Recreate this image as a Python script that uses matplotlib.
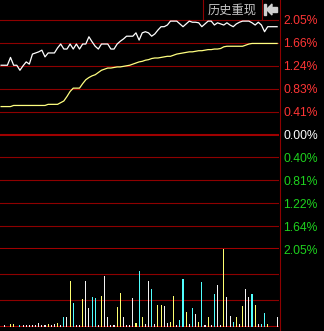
import matplotlib
matplotlib.use('Agg')
import matplotlib.pyplot as plt
from matplotlib.lines import Line2D
from matplotlib.patches import Polygon, Rectangle

# intraday change in percent, one point per bar
price = [1.24, 1.24, 1.24, 1.38, 1.24, 1.24, 1.15, 1.23, 1.30, 1.26,
         1.44, 1.46, 1.48, 1.51, 1.39, 1.46, 1.46, 1.46, 1.55, 1.62,
         1.53, 1.53, 1.62, 1.53, 1.62, 1.53, 1.62, 1.62, 1.75, 1.66,
         1.58, 1.53, 1.62, 1.62, 1.62, 1.53, 1.53, 1.62, 1.67, 1.71,
         1.76, 1.76, 1.76, 1.82, 1.69, 1.82, 1.84, 1.82, 1.76, 1.80,
         1.87, 1.93, 1.93, 1.96, 2.03, 2.03, 2.03, 1.98, 1.93, 1.98,
         2.03, 2.01, 2.01, 2.00, 1.93, 1.98, 2.03, 2.03, 1.96, 2.00,
         1.98, 1.96, 2.00, 1.96, 1.93, 1.98, 2.01, 2.03, 2.03, 2.03,
         2.00, 1.96, 2.01, 1.96, 1.84, 1.93, 1.93, 1.93, 1.93]
avg_price = [0.50, 0.50, 0.50, 0.50, 0.52, 0.52, 0.52, 0.52, 0.52, 0.52,
             0.52, 0.52, 0.52, 0.52, 0.52, 0.54, 0.54, 0.54, 0.54, 0.57,
             0.60, 0.68, 0.77, 0.83, 0.83, 0.83, 0.91, 0.98, 1.02, 1.05,
             1.07, 1.11, 1.15, 1.17, 1.19, 1.19, 1.20, 1.21, 1.21, 1.22,
             1.23, 1.24, 1.26, 1.28, 1.30, 1.31, 1.33, 1.34, 1.36, 1.37,
             1.37, 1.38, 1.39, 1.40, 1.40, 1.42, 1.44, 1.45, 1.46, 1.47,
             1.48, 1.48, 1.49, 1.50, 1.50, 1.51, 1.52, 1.52, 1.53, 1.53,
             1.54, 1.57, 1.58, 1.58, 1.58, 1.58, 1.58, 1.58, 1.60, 1.62,
             1.63, 1.63, 1.63, 1.63, 1.63, 1.63, 1.63, 1.63, 1.63]
volume = [0, 4, 0, 8, 8, 0, 4, 4, 4, 4,
          4, 4, 12, 4, 4, 8, 4, 8, 15, 4,
          38, 38, 173, 88, 4, 4, 104, 173, 69, 112,
          108, 4, 115, 192, 38, 4, 4, 73, 127, 38,
          4, 4, 108, 15, 212, 38, 8, 173, 142, 8,
          81, 81, 77, 12, 19, 115, 4, 23, 181, 54,
          8, 69, 46, 19, 169, 4, 38, 4, 123, 158,
          4, 296, 112, 42, 19, 35, 8, 77, 142, 112,
          123, 81, 8, 8, 50, 8, 0, 0, 38]
# w = white, y = yellow, c = cyan bar
vol_kind = ['w', 'w', 'w', 'y', 'y', 'w', 'c', 'w', 'w', 'w',
            'w', 'w', 'w', 'w', 'w', 'y', 'w', 'w', 'y', 'w',
            'c', 'w', 'y', 'c', 'w', 'w', 'y', 'w', 'w', 'c',
            'c', 'w', 'y', 'w', 'w', 'w', 'w', 'y', 'y', 'w',
            'w', 'w', 'w', 'y', 'c', 'y', 'w', 'w', 'c', 'w',
            'y', 'y', 'w', 'w', 'y', 'y', 'w', 'c', 'c', 'y',
            'w', 'c', 'w', 'y', 'c', 'w', 'y', 'w', 'c', 'w',
            'w', 'y', 'w', 'w', 'c', 'y', 'w', 'y', 'w', 'w',
            'c', 'y', 'w', 'c', 'c', 'y', 'w', 'w', 'w']
level_labels = ['2.05%', '1.66%', '1.24%', '0.83%', '0.41%', '0.00%',
                '0.40%', '0.81%', '1.22%', '1.64%', '2.05%']

W, H = 324, 331
RED = '#8e0000'
kind_colour = {'w': '#f2f2f2', 'y': '#ffff70', 'c': '#50ffff'}

fig = plt.figure(figsize=(W / 100, H / 100), dpi=100, facecolor='black')
ax = fig.add_axes([0, 82 / H, 279 / W, 249 / H], facecolor='black')
axv = fig.add_axes([0, 4.5 / H, 279 / W, 77.5 / H], facecolor='black')

x = list(range(len(price)))
step = 2.05 / 5
levels = [step * k for k in range(5, -6, -1)]

for lv in levels:
    thick = abs(lv) < 1e-9 or lv < -2.0
    ax.axhline(lv, color='#a00000' if thick else RED, lw=1.5 if thick else 0.8, zorder=1)
ax.plot(x, avg_price, color='#ffff80', lw=0.9, zorder=3)
ax.plot(x, price, color='white', lw=0.9, zorder=4)
ax.set_xlim(-0.35, 88.6)
ax.set_ylim(-2.05, 2.05 + 20 * 4.1 / 229)

ax.yaxis.tick_right()
ax.set_yticks(levels)
ax.set_yticklabels(level_labels)
ax.tick_params(axis='y', length=0, pad=3, labelsize=8.7)
for t, lv in zip(ax.get_yticklabels(), levels):
    t.set_fontfamily('Liberation Sans')
    t.set_color('#ff3535' if lv > 1e-9 else ('#ffffff' if abs(lv) < 1e-9 else '#1ed21e'))
ax.set_xticks([])
for s in ax.spines.values():
    s.set_visible(False)

for g in (100, 200):
    axv.axhline(g, color=RED, lw=0.8, zorder=1)
axv.axhline(0, color='#a00000', lw=1.5, zorder=1)
axv.bar(x, volume, width=0.34, color=[kind_colour[k] for k in vol_kind],
        linewidth=0, antialiased=False, zorder=2)
axv.set_xlim(-0.35, 88.6)
axv.set_ylim(0, 296)
axv.set_xticks([])
axv.set_yticks([])
for s in axv.spines.values():
    s.set_visible(False)

# right border and the replay box at the top
def fx(px):
    return px / W

def fy(py):
    return 1 - py / H

fig.add_artist(Line2D([fx(279.5), fx(279.5)], [0, 1], color=RED, lw=0.8))
fig.add_artist(Line2D([fx(202.5), fx(202.5)], [fy(0), fy(20)], color=RED, lw=0.8))
fig.add_artist(Line2D([fx(261.5), fx(261.5)], [fy(0), fy(20)], color=RED, lw=0.8))
fig.text(fx(232), fy(10.5), '历史重现', color='#c8c8c8', fontsize=8.8,
         family=['Noto Sans CJK SC', 'DejaVu Sans'], ha='center', va='center')
icon = '#d0d0d0'
fig.add_artist(Rectangle((fx(264), fy(15)), fx(2), 11 / H, color=icon,
                         transform=fig.transFigure))
fig.add_artist(Polygon([(fx(266.5), fy(9.5)), (fx(272), fy(4)), (fx(272), fy(15))],
                       closed=True, color=icon, transform=fig.transFigure))
fig.add_artist(Rectangle((fx(271.5), fy(12)), fx(5), 4.5 / H, color=icon,
                         transform=fig.transFigure))

fig.savefig('out.png', dpi=100, facecolor='black')
